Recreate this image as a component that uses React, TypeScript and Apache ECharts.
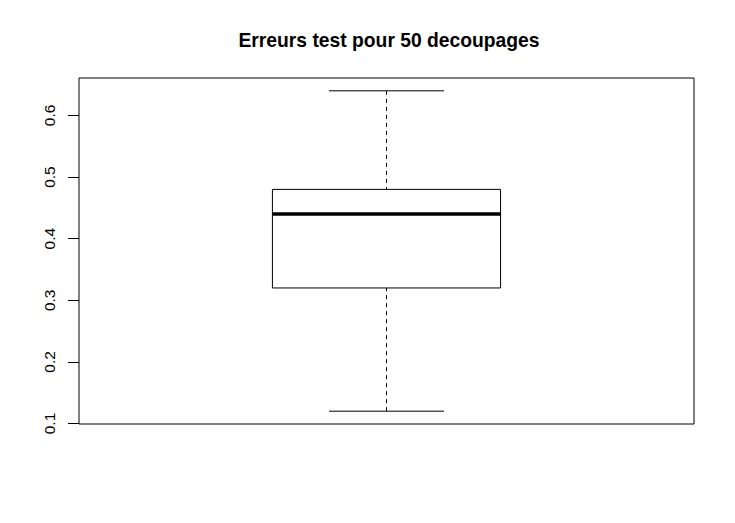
import React, { useEffect, useRef } from "react";
import * as echarts from "echarts";

const categories = [1];
const lowerWhisker = [0.12];
const firstQuartile = [0.32];
const medianValues = [0.44];
const thirdQuartile = [0.48];
const upperWhisker = [0.64];
const yTickValues = [0.1, 0.2, 0.3, 0.4, 0.5, 0.6];
const titleText = "Erreurs test pour 50 decoupages";

export default function App() {
  const ref = useRef<HTMLDivElement>(null);
  useEffect(() => {
    if (!ref.current) return;
    const chart = echarts.init(ref.current, null, { renderer: "svg" });
    const data = categories.map((c, i) => [
      c,
      lowerWhisker[i],
      firstQuartile[i],
      medianValues[i],
      thirdQuartile[i],
      upperWhisker[i],
    ]);
    const boxHalf = 0.1855;
    const capHalf = 0.0935;
    chart.setOption({
      animation: false,
      backgroundColor: "#ffffff",
      title: {
        text: titleText,
        left: 384,
        textAlign: "center",
        top: 26,
        textStyle: {
          fontFamily: "Liberation Sans, Arial, sans-serif",
          fontWeight: "bold",
          fontSize: 19.3,
          color: "#000",
        },
      },
      grid: {
        left: 79,
        right: 41,
        top: 78,
        bottom: 99,
        show: true,
        borderColor: "#000",
        borderWidth: 1,
        backgroundColor: "transparent",
      },
      xAxis: {
        type: "value",
        min: 0.5,
        max: 1.5,
        show: false,
      },
      yAxis: {
        type: "value",
        min: 0.0992,
        max: 0.6608,
        splitLine: { show: false },
        axisLine: { show: false },
        axisTick: {
          show: true,
          length: 11,
          customValues: yTickValues,
          lineStyle: { color: "#000", width: 1 },
        },
        axisLabel: {
          customValues: yTickValues,
          rotate: 90,
          margin: 22,
          fontFamily: "Liberation Sans, Arial, sans-serif",
          fontSize: 15.5,
          color: "#000",
          formatter: (v: number) => v.toFixed(1),
        },
      },
      series: [
        {
          type: "custom",
          data,
          clip: false,
          renderItem: (params: any, api: any) => {
            const x = api.value(0);
            const lo = api.value(1);
            const q1 = api.value(2);
            const med = api.value(3);
            const q3 = api.value(4);
            const hi = api.value(5);
            const pLoL = api.coord([x - capHalf, lo]);
            const pLoR = api.coord([x + capHalf, lo]);
            const pHiL = api.coord([x - capHalf, hi]);
            const pHiR = api.coord([x + capHalf, hi]);
            const pLo = api.coord([x, lo]);
            const pHi = api.coord([x, hi]);
            const pQ1 = api.coord([x, q1]);
            const pQ3 = api.coord([x, q3]);
            const bL = api.coord([x - boxHalf, q3]);
            const bR = api.coord([x + boxHalf, q1]);
            const mL = api.coord([x - boxHalf, med]);
            const mR = api.coord([x + boxHalf, med]);
            const solid = { stroke: "#000", lineWidth: 1, fill: null };
            const dashed = { stroke: "#000", lineWidth: 1, lineDash: [4, 4], fill: null };
            return {
              type: "group",
              children: [
                { type: "line", shape: { x1: pHi[0], y1: pHi[1], x2: pQ3[0], y2: pQ3[1] }, style: dashed },
                { type: "line", shape: { x1: pLo[0], y1: pLo[1], x2: pQ1[0], y2: pQ1[1] }, style: dashed },
                { type: "line", shape: { x1: pHiL[0], y1: pHiL[1], x2: pHiR[0], y2: pHiR[1] }, style: solid },
                { type: "line", shape: { x1: pLoL[0], y1: pLoL[1], x2: pLoR[0], y2: pLoR[1] }, style: solid },
                {
                  type: "rect",
                  shape: { x: bL[0], y: bL[1], width: bR[0] - bL[0], height: bR[1] - bL[1] },
                  style: { stroke: "#000", lineWidth: 1, fill: "#fff" },
                },
                { type: "line", shape: { x1: mL[0], y1: mL[1], x2: mR[0], y2: mR[1] }, style: { stroke: "#000", lineWidth: 3.5 } },
              ],
            };
          },
        },
      ],
    });
    return () => chart.dispose();
  }, []);
  return <div ref={ref} style={{ width: 735, height: 523, position: "absolute", left: 0, top: 0 }} />;
}
